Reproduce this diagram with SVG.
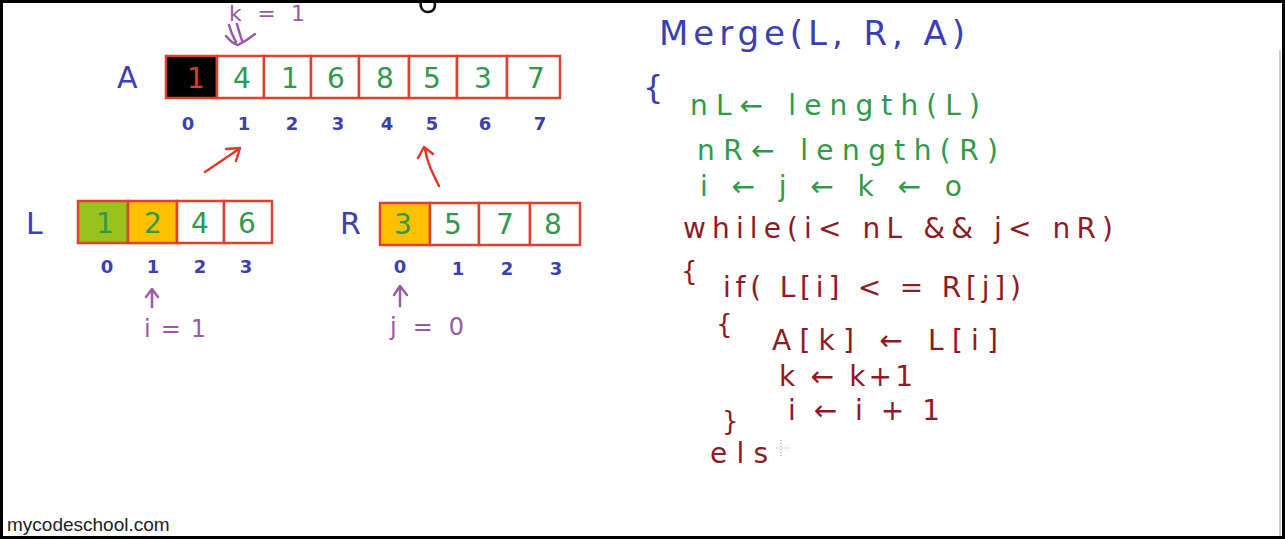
<svg xmlns="http://www.w3.org/2000/svg" width="1285" height="539" viewBox="0 0 1285 539">
<style>
.hand{font-family:"DejaVu Sans","Liberation Sans",sans-serif;}
.blue{fill:#3b3fb3;}
.green{fill:#2f9a48;}
.red{fill:#e3392b;}
.dred{fill:#8e1b1f;}
.purple{fill:#9a5aa8;}
.cell{stroke:#e0402e;stroke-width:2.5;}
.idx{font-size:18px;font-weight:bold;text-anchor:middle;}
.val{font-size:28px;text-anchor:middle;}
.code{font-size:28px;}
.arr{fill:none;stroke-width:2.5;stroke-linecap:round;stroke-linejoin:round;}
</style>
<rect x="0" y="0" width="1285" height="539" fill="#ffffff"/>

<g id="k-label">
<text class="hand purple" x="229" y="21" font-size="22" textLength="76">k = 1</text>
</g>
<g id="top-mark">
<path d="M421 0 C419 10 425 14 432 11 C436 8 435 3 434 0" fill="none" stroke="#111" stroke-width="2.5"/>
</g>

<g id="array-A">
<text class="hand blue" x="117" y="88" font-size="30">A</text>
<rect class="cell" x="166" y="56" width="51" height="42" fill="#000"/>
<rect class="cell" x="217" y="56" width="47" height="42" fill="#fff"/>
<rect class="cell" x="264" y="56" width="47" height="42" fill="#fff"/>
<rect class="cell" x="311" y="56" width="48" height="42" fill="#fff"/>
<rect class="cell" x="359" y="56" width="50" height="42" fill="#fff"/>
<rect class="cell" x="409" y="56" width="48" height="42" fill="#fff"/>
<rect class="cell" x="457" y="56" width="50" height="42" fill="#fff"/>
<rect class="cell" x="507" y="56" width="53" height="42" fill="#fff"/>
<text class="hand val red" x="196" y="88">1</text>
<text class="hand val green" x="242" y="88">4</text>
<text class="hand val green" x="290" y="88">1</text>
<text class="hand val green" x="336" y="88">6</text>
<text class="hand val green" x="385" y="88">8</text>
<text class="hand val green" x="432" y="88">5</text>
<text class="hand val green" x="483" y="88">3</text>
<text class="hand val green" x="536" y="88">7</text>
<text class="hand idx blue" x="188" y="130">0</text>
<text class="hand idx blue" x="244" y="130">1</text>
<text class="hand idx blue" x="292" y="130">2</text>
<text class="hand idx blue" x="338" y="130">3</text>
<text class="hand idx blue" x="387" y="130">4</text>
<text class="hand idx blue" x="432" y="130">5</text>
<text class="hand idx blue" x="485" y="130">6</text>
<text class="hand idx blue" x="540" y="130">7</text>
</g>

<g id="array-L">
<text class="hand blue" x="26" y="234" font-size="30">L</text>
<rect class="cell" x="78" y="201" width="50" height="42" fill="#99c21c"/>
<rect class="cell" x="128" y="201" width="49" height="42" fill="#ffc000"/>
<rect class="cell" x="177" y="201" width="47" height="42" fill="#fff"/>
<rect class="cell" x="224" y="201" width="48" height="42" fill="#fff"/>
<text class="hand val green" x="105" y="233">1</text>
<text class="hand val green" x="153" y="233">2</text>
<text class="hand val green" x="200" y="233">4</text>
<text class="hand val green" x="247" y="233">6</text>
<text class="hand idx blue" x="107" y="273">0</text>
<text class="hand idx blue" x="153" y="273">1</text>
<text class="hand idx blue" x="200" y="273">2</text>
<text class="hand idx blue" x="246" y="273">3</text>
</g>

<g id="array-R">
<text class="hand blue" x="340" y="234" font-size="30">R</text>
<rect class="cell" x="380" y="203" width="50" height="42" fill="#ffc000"/>
<rect class="cell" x="430" y="203" width="49" height="42" fill="#fff"/>
<rect class="cell" x="479" y="203" width="51" height="42" fill="#fff"/>
<rect class="cell" x="530" y="203" width="50" height="42" fill="#fff"/>
<text class="hand val green" x="403" y="234">3</text>
<text class="hand val green" x="453" y="234">5</text>
<text class="hand val green" x="505" y="234">7</text>
<text class="hand val green" x="553" y="234">8</text>
<text class="hand idx blue" x="400" y="273">0</text>
<text class="hand idx blue" x="458" y="275">1</text>
<text class="hand idx blue" x="507" y="275">2</text>
<text class="hand idx blue" x="556" y="275">3</text>
</g>

<g id="i-label">
<text class="hand purple" x="144" y="337" font-size="24" textLength="62">i = 1</text>
</g>
<g id="j-label">
<text class="hand purple" x="390" y="335" font-size="24" textLength="74">j = 0</text>
</g>

<g id="connectors">
<path class="arr" d="M229 25 C231 33 234 38 236 42 M237 24 C239 32 241 37 242 41 M226 36 C230 41 234 44 238 45 C244 42 250 38 255 34" stroke="#9a5aa8"/>
<path class="arr" d="M205 172 L239 149 M226 149 L240 148 L236 161" stroke="#e3392b"/>
<path class="arr" d="M439 186 C432 172 427 162 425 149 M418 158 L424 147 L433 154" stroke="#e3392b"/>
<path class="arr" d="M152 307 L152 290 M146 297 L152 289 L158 297" stroke="#9a5aa8"/>
<path class="arr" d="M400 306 L400 287 M394 295 L400 286 L407 295" stroke="#9a5aa8"/>
</g>

<g id="code">
<text class="hand blue" x="659" y="45" font-size="34" textLength="306">Merge(L, R, A)</text>
<text class="hand blue" x="643" y="98" font-size="32">{</text>
<text class="hand green code" x="690" y="115" textLength="290">nL← length(L)</text>
<text class="hand green code" x="697" y="160" textLength="301">nR← length(R)</text>
<text class="hand green code" x="700" y="196" textLength="262">i ← j ← k ← o</text>
<text class="hand dred code" x="683" y="238" textLength="430">while(i&lt; nL &amp;&amp; j&lt; nR)</text>
<text class="hand dred" x="681" y="280" font-size="26">{</text>
<text class="hand dred code" x="723" y="297" textLength="298">if( L[i] &lt; = R[j])</text>
<text class="hand dred" x="716" y="333" font-size="26">{</text>
<text class="hand dred code" x="772" y="350" textLength="226">A[k] ←  L[i]</text>
<text class="hand dred code" x="779" y="386" textLength="134">k ← k+1</text>
<text class="hand dred code" x="788" y="420" textLength="152">i ← i + 1</text>
<text class="hand dred" x="722" y="430" font-size="26">}</text>
<text class="hand dred code" x="710" y="463" textLength="58">els</text>
<path d="M781 440 L781 456 M776 448 L790 448" stroke="#999" stroke-width="1" stroke-dasharray="1 2"/>
</g>

<g id="watermark">
<text x="7" y="531" font-family="Liberation Sans, Arial, sans-serif" font-size="19" fill="#222">mycodeschool.com</text>
</g>

<g id="frame">
<line x1="1280" y1="50" x2="1280" y2="536" stroke="#9a9a9a" stroke-width="1"/>
<rect x="0" y="0" width="1285" height="3" fill="#000"/>
<rect x="0" y="0" width="3" height="539" fill="#000"/>
<rect x="1282" y="0" width="3" height="539" fill="#000"/>
<rect x="0" y="536" width="1285" height="3" fill="#000"/>
</g>
</svg>
